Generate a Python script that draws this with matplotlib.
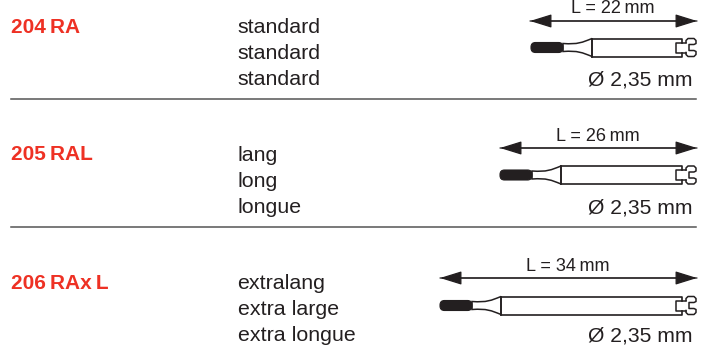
import matplotlib
matplotlib.use('Agg')
import matplotlib.pyplot as plt
from matplotlib.patches import FancyBboxPatch, PathPatch
from matplotlib.path import Path

plt.rcParams['font.family'] = ['Liberation Sans', 'DejaVu Sans']

# data
codes = ['204\u2009RA', '205\u2009RAL', '206\u2009RAx\u2009L']
names = [
    ['standard', 'standard', 'standard'],
    ['lang', 'long', 'longue'],
    ['extralang', 'extra large', 'extra longue'],
]
lengths = ['L = 22\u2009mm', 'L = 26\u2009mm', 'L = 34\u2009mm']
diameter = 'Ø 2,35 mm'

# baselines, in pixels from the top
code_y = [33, 160, 289]
name_y = [[33, 59, 85], [161, 187, 213], [289, 315, 341]]
length_y = [13, 141, 271]
dia_y = [85, 213, 341]

arrow_y = [21, 148, 278]
arrow_left = [530, 500, 440]
bur_y = [47.5, 175, 305.5]
bur_left = [530, 499, 439]
rule_y = [99, 227]

RED = '#ee3124'
DARK = '#231f20'

fig = plt.figure(figsize=(7.03, 3.45), dpi=100)
ax = fig.add_axes([0, 0, 1, 1])
ax.set_xlim(0, 703)
ax.set_ylim(345, 0)
ax.axis('off')


def draw_bur(left, y):
    # black tip, curved neck, long shank, latch end
    tip_end = left + 33
    shank = left + 62
    neck = Path([(tip_end, y - 4), (left + 48, y - 3), (left + 52, y - 5), (shank, y - 9),
                 (shank, y + 9), (left + 52, y + 5), (left + 48, y + 3), (tip_end, y + 4),
                 (tip_end, y - 4)],
                [Path.MOVETO, Path.CURVE4, Path.CURVE4, Path.CURVE4,
                 Path.LINETO, Path.CURVE4, Path.CURVE4, Path.CURVE4, Path.CLOSEPOLY])
    ax.add_patch(PathPatch(neck, fc='white', ec=DARK, lw=1.1))
    ax.add_patch(FancyBboxPatch((left + 1, y - 5), tip_end - left - 1, 10,
                                boxstyle='round,pad=0,rounding_size=4.5',
                                fc=DARK, ec=DARK, lw=0.8, zorder=3))
    ax.plot([shank, 682, 682], [y - 9, y - 9, y - 5], color=DARK, lw=1.2)
    ax.plot([shank, 682, 682], [y + 9, y + 9, y + 5], color=DARK, lw=1.2)
    ax.plot([shank, shank], [y - 9, y + 9], color=DARK, lw=1.2)
    # latch
    ax.plot([686, 676, 676, 686], [y - 5, y - 5, y + 5, y + 5], color=DARK, lw=1.1)
    ax.plot([686, 686, 688, 694, 696, 696, 694, 689, 689, 694, 696, 696, 694, 688, 686, 686],
            [y - 5, y - 7, y - 9, y - 9, y - 7, y - 4, y - 3, y - 3, y + 3, y + 3, y + 4, y + 7,
             y + 9, y + 9, y + 7, y + 5],
            color=DARK, lw=1.1)


for i, code in enumerate(codes):
    ax.text(11, code_y[i], code, color=RED, fontsize=15, fontweight='bold', va='baseline', ha='left')
    for name, y in zip(names[i], name_y[i]):
        ax.text(237.5, y, name, color=DARK, fontsize=15.4, va='baseline', ha='left')
    mid = (arrow_left[i] + 696) / 2
    ax.text(mid, length_y[i], lengths[i], color=DARK, fontsize=13, va='baseline', ha='center')
    ax.annotate('', xy=(arrow_left[i], arrow_y[i]), xytext=(697, arrow_y[i]),
                arrowprops=dict(arrowstyle='-|>,head_length=1.35,head_width=0.42',
                                color=DARK, lw=0.9, shrinkA=0, shrinkB=0))
    ax.annotate('', xy=(697, arrow_y[i]), xytext=(arrow_left[i], arrow_y[i]),
                arrowprops=dict(arrowstyle='-|>,head_length=1.35,head_width=0.42',
                                color=DARK, lw=0.9, shrinkA=0, shrinkB=0))
    draw_bur(bur_left[i], bur_y[i])
    ax.text(692, dia_y[i], diameter, color=DARK, fontsize=15.2, va='baseline', ha='right')

for y in rule_y:
    ax.plot([11, 696], [y, y], color='#555555', lw=1.1)

fig.savefig('out.png', dpi=100)
